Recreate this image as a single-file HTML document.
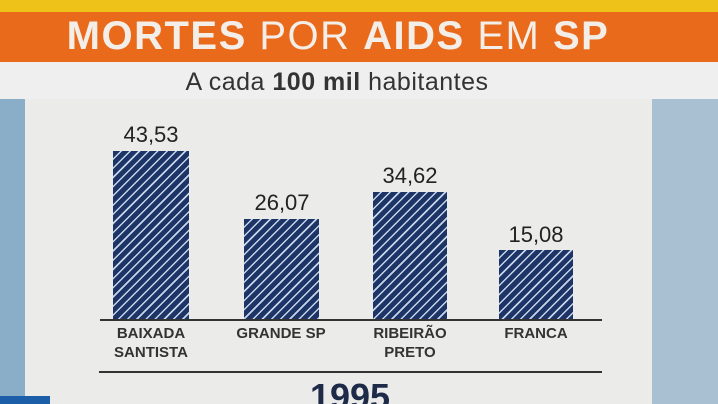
<!DOCTYPE html><html><head><style>
html,body{margin:0;width:718px;height:404px;overflow:hidden}
body{position:relative;font-family:"Liberation Sans",sans-serif;background:#dfe3e6}
div{position:absolute}
.t{color:#222;font-size:22px;text-align:center;width:120px}
.l{color:#333;font-size:15px;font-weight:bold;text-align:center;width:140px;line-height:19px}
.bar{background:repeating-linear-gradient(135deg,#1d3566 0 5px,#c8d4ea 5px 6.5px)}
</style></head><body>
<div style="left:0;top:0;width:718px;height:12px;background:#efc21a"></div>
<div style="left:0;top:12px;width:718px;height:50px;background:#ea6a1c"></div>
<div style="left:0;top:14px;width:676px;text-align:center;color:#f3eee8;font-size:40px;letter-spacing:1.5px;white-space:nowrap"><b>MORTES</b> POR <b>AIDS</b> EM <b>SP</b></div>
<div style="left:0;top:62px;width:718px;height:37px;background:#efefef"></div>
<div style="left:0;top:68px;width:674px;text-align:center;color:#333;font-size:25px;letter-spacing:0.5px">A cada <b>100 mil</b> habitantes</div>
<div style="left:0;top:99px;width:25px;height:305px;background:#8aaec8"></div>
<div style="left:652px;top:99px;width:66px;height:305px;background:#a8c0d2"></div>
<div style="left:25px;top:99px;width:627px;height:305px;background:#ebebea"></div>
<div class="bar" style="left:113px;top:151px;width:76px;height:169px"></div>
<div class="bar" style="left:244px;top:219px;width:75px;height:101px"></div>
<div class="bar" style="left:373px;top:192px;width:74px;height:128px"></div>
<div class="bar" style="left:499px;top:250px;width:74px;height:70px"></div>
<div class="t" style="left:91px;top:122px">43,53</div>
<div class="t" style="left:222px;top:190px">26,07</div>
<div class="t" style="left:350px;top:163px">34,62</div>
<div class="t" style="left:476px;top:222px">15,08</div>
<div style="left:100px;top:319px;width:502px;height:2px;background:#333"></div>
<div class="l" style="left:81px;top:324px">BAIXADA<br>SANTISTA</div>
<div class="l" style="left:211px;top:324px">GRANDE SP</div>
<div class="l" style="left:340px;top:324px">RIBEIRÃO<br>PRETO</div>
<div class="l" style="left:466px;top:324px">FRANCA</div>
<div style="left:99px;top:371px;width:503px;height:2px;background:#333"></div>
<div style="left:250px;top:376px;width:200px;text-align:center;color:#1d2a48;font-size:36px;font-weight:bold">1995</div>
<div style="left:0;top:396px;width:50px;height:8px;background:#1c5ea8"></div>
</body></html>
